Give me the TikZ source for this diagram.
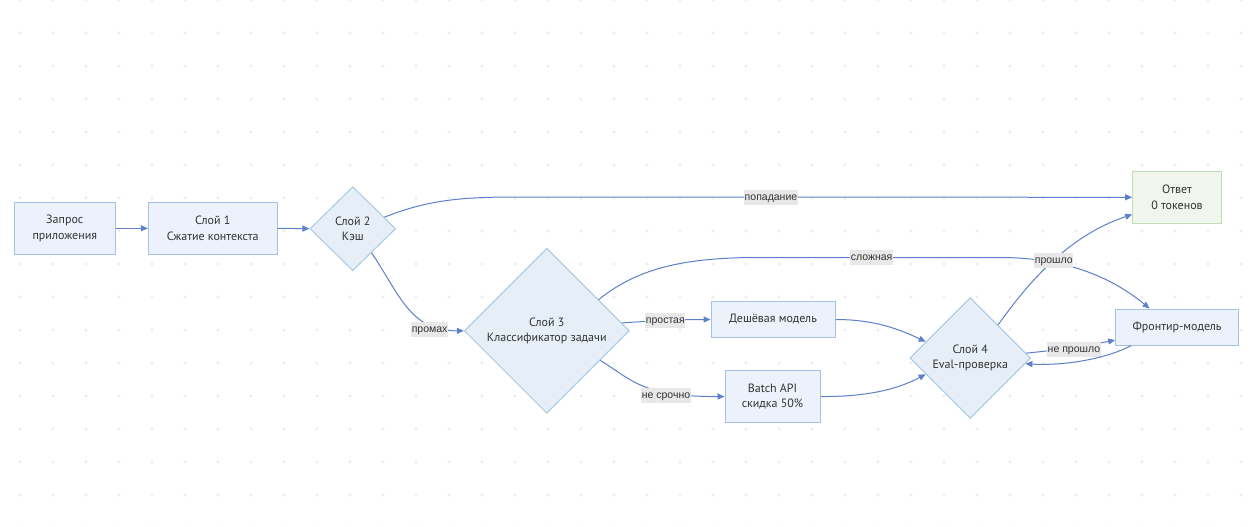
\documentclass[tikz,border=0pt]{standalone}
\usepackage{fontspec}
\setmainfont{Liberation Sans}
\newfontfamily\nodefont{PT Sans}
\usetikzlibrary{shapes.geometric,arrows.meta}
\definecolor{rectfill}{HTML}{ECF2FB}
\definecolor{rectline}{HTML}{A8BFE6}
\definecolor{diafill}{HTML}{E6EFF8}
\definecolor{dialine}{HTML}{A9CADF}
\definecolor{okfill}{HTML}{F0F6EC}
\definecolor{okline}{HTML}{C5DBB8}
\definecolor{edgec}{HTML}{5C80C9}
\definecolor{lblfill}{HTML}{E8E8E8}
\definecolor{txt}{HTML}{333333}
\definecolor{dotc}{HTML}{EDEDED}
\begin{document}
\begin{tikzpicture}[x=1pt,y=-1pt,
  nodetext/.style={text=txt,align=center,font=\nodefont\fontsize{12}{15.3}\selectfont},
  box/.style={nodetext,draw=rectline,fill=rectfill,line width=1pt,inner sep=0pt},
  okbox/.style={nodetext,draw=okline,fill=okfill,line width=1pt,inner sep=0pt},
  dia/.style={nodetext,diamond,aspect=1,draw=dialine,fill=diafill,line width=1pt,inner sep=0pt},
  edge/.style={draw=edgec,line width=1pt,-{Triangle[length=7pt,width=6pt]}},
  lbl/.style={fill=lblfill,text=txt,font=\fontsize{10.5}{13}\selectfont,inner xsep=0.5pt,inner ysep=2pt,text height=8.5pt,text depth=2.5pt}
]
\useasboundingbox (0,0) rectangle (1256,527);
\fill[white] (0,0) rectangle (1256,527);
% dot grid
\foreach \i in {0,...,37}{
  \foreach \j in {0,...,16}{
    \fill[dotc] (20+33*\i,33*\j) +(0,-1.6) -- +(1.6,0) -- +(0,1.6) -- +(-1.6,0) -- cycle;
  }
}
% nodes
\node[box,minimum width=101pt,minimum height=52pt] (zap) at (64.8,228.3) {Запрос\\приложения};
\node[box,minimum width=128.7pt,minimum height=52pt] (s1) at (212.7,228.3) {Слой 1\\Сжатие контекста};
\node[dia,minimum width=85.7pt,minimum height=84pt] (s2) at (352.8,228.7) {Слой 2\\Кэш};
\node[dia,minimum width=165pt,minimum height=165pt] (s3) at (546.8,330.8) {Слой 3\\Классификатор задачи};
\node[box,minimum width=124pt,minimum height=36pt] (desh) at (773,319.5) {Дешёвая модель};
\node[box,minimum width=95pt,minimum height=52pt] (batch) at (772.5,396.5) {Batch API\\скидка 50\%};
\node[okbox,minimum width=88.7pt,minimum height=52pt] (otvet) at (1177,197.3) {Ответ\\0 токенов};
\node[box,minimum width=122.7pt,minimum height=36pt] (front) at (1177,327) {Фронтир-модель};
\node[dia,minimum width=120.7pt,minimum height=120.7pt] (s4) at (970.3,358) {Слой 4\\Eval-проверка};
% helper coordinates
\coordinate (c3) at (520,197);
\coordinate (c7a) at (760,257.5);
\coordinate (c7b) at (1000,257.5);
% edges
\draw[edge] (zap.east) -- (s1.west);
\draw[edge] (s1.east) -- (s2.west);
\draw[edge] (s2.20) .. controls (430,199) and (465,197) .. (c3) -- node[lbl,pos=0.41]{попадание} (otvet.west);
\draw[edge] (s2.-52) .. controls (400,295) and (410,331) .. node[lbl,pos=0.74,yshift=-5pt]{промах} (s3.west);
\draw[edge] (s3.6) .. controls (650,321) and (680,319.5) .. node[lbl,pos=0.5]{простая} (desh.west);
\draw[edge] (s3.-29) .. controls (630,378) and (640,397) .. node[lbl,pos=0.7,yshift=-3pt]{не срочно} (batch.west);
\draw[edge] (s3.31) .. controls (640,266) and (690,257.5) .. (c7a) -- node[lbl,pos=0.465]{сложная} (c7b) .. controls (1070,257.5) and (1115,280) .. (front.146);
\draw[edge] (desh.east) .. controls (870,319.5) and (895,327) .. (s4.160);
\draw[edge] (batch.east) .. controls (870,397) and (900,388) .. (s4.200);
\draw[edge] (s4.50) .. controls (1030,280) and (1070,235) .. node[lbl,pos=0.5]{прошло} (otvet.201);
\draw[edge] (s4.5) .. controls (1060,350) and (1090,345) .. node[lbl,pos=0.5,yshift=-2pt]{не прошло} (front.192);
\draw[edge] (front.202) .. controls (1110,357) and (1070,366) .. (s4.-6);
\end{tikzpicture}
\end{document}
